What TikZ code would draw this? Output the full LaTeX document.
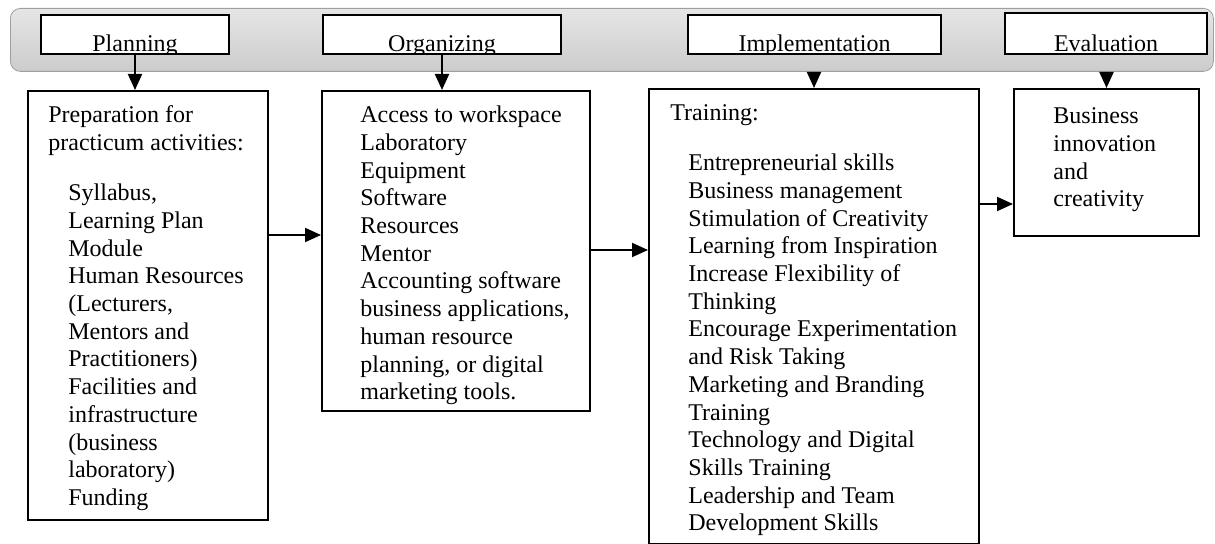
\documentclass[tikz,border=0pt]{standalone}
\usepackage{fontspec}
\setmainfont{Liberation Serif}
\usepackage{tikz}
\usetikzlibrary{arrows.meta}
\newcommand{\bandcolor}{gray}
\newcommand{\boxcolor}{white}
\tikzstyle{band} = [rectangle, rounded corners=5pt,
anchor=north west,
minimum width=601.5pt,
minimum height=31.5pt,
draw=\bandcolor!75,
top color=\bandcolor!20,
bottom color=\bandcolor!40]
\tikzstyle{stage} = [rectangle, anchor=north west,
minimum height=19.5pt,
draw=black, line width=1pt,
fill=\boxcolor]
\tikzstyle{content} = [rectangle, anchor=north west,
draw=black, line width=1pt,
fill=\boxcolor]
\tikzstyle{items} = [anchor=north west, align=left,
inner sep=0pt,
font=\fontsize{12}{13.85}\selectfont]
\tikzstyle{arrow} = [line width=1pt,-{Triangle[length=8pt,width=7pt]}]
% stage title sits low in its box, the box cuts off the descenders
\tikzset{stagetitle/.style={path picture={\node[anchor=base, inner sep=0pt,
  font=\fontsize{12}{13.85}\selectfont]
  at ([yshift=1.2pt]path picture bounding box.south) {#1};}}}

\begin{document}
\begin{tikzpicture}[x=0.5pt, y=-0.5pt]
\useasboundingbox (0,0) rectangle (1215,544);

%-----------stage band
\node (band) [band] at (10,8) {};

%-----------stages
\node (plan) [stage, minimum width=94pt, stagetitle=Planning] at (40,14) {};
\node (org) [stage, minimum width=119pt, stagetitle=Organizing] at (322,14) {};
\node (impl) [stage, minimum width=126.5pt, stagetitle=Implementation] at (687,14) {};
\node (eval) [stage, minimum width=101pt, minimum height=20.5pt,
  stagetitle=Evaluation] at (1004,12) {};

%-----------preparation
\node (prep) [content, minimum width=120pt, minimum height=214.5pt] at (27,90) {};
\node (prephead) [items] at (48,103) {\strut Preparation for\\ practicum activities:};
\node (preplist) [items] at (68,181) {\strut Syllabus,\\ Learning Plan\\ Module\\
  Human Resources\\ (Lecturers,\\ Mentors and\\ Practitioners)\\ Facilities and\\
  infrastructure\\ (business\\ laboratory)\\ Funding};

%-----------access and resources
\node (access) [content, minimum width=134pt, minimum height=160pt] at (321,90) {};
\node (accesslist) [items] at (360,103) {\strut Access to workspace\\ Laboratory\\
  Equipment\\ Software\\ Resources\\ Mentor\\ Accounting software\\
  business applications,\\ human resource\\ planning, or digital\\ marketing tools.};

%-----------training
\node (train) [content, minimum width=165pt, minimum height=227.5pt] at (648,88) {};
\node (trainhead) [items] at (670,101) {\strut Training:};
\node (trainlist) [items] at (688,151) {\strut Entrepreneurial skills\\
  Business management\\ Stimulation of Creativity\\ Learning from Inspiration\\
  Increase Flexibility of\\ Thinking\\ Encourage Experimentation\\ and Risk Taking\\
  Marketing and Branding\\ Training\\ Technology and Digital\\ Skills Training\\
  Leadership and Team\\ Development Skills};

%-----------outcome
\node (biz) [content, minimum width=92.5pt, minimum height=73.5pt] at (1013,88) {};
\node (biztext) [items] at (1053,104) {\strut Business\\ innovation\\ and\\ creativity};

%-----------arrows
\draw [arrow] (plan.south) -- (plan.south |- prep.north);
\draw [arrow] (org.south) -- (org.south |- access.north);
\draw [arrow] (train.north |- band.south) -- (train.north);
\draw [arrow] (biz.north |- band.south) -- (biz.north);
\draw [arrow] ([yshift=8pt]access.west -| prep.east) -- ([yshift=8pt]access.west);
\draw [arrow] ([yshift=0.5pt]access.east) -- ([yshift=0.5pt]access.east -| train.west);
\draw [arrow] ([yshift=-20.75pt]biz.west -| train.east) -- ([yshift=-20.75pt]biz.west);

\end{tikzpicture}
\end{document}
